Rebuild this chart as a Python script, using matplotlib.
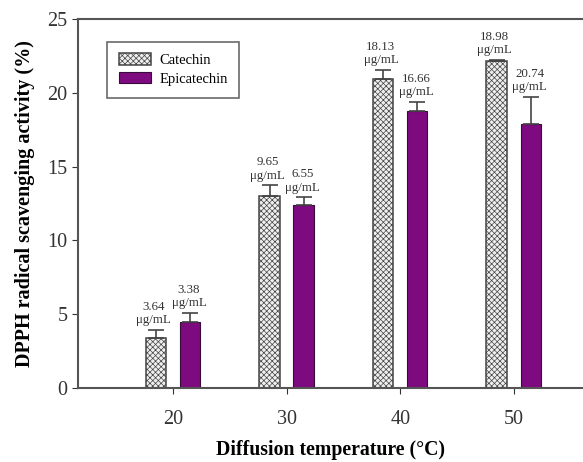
import matplotlib
matplotlib.use("Agg")
import matplotlib.pyplot as plt
import numpy as np

plt.rcParams['font.family'] = ['Liberation Serif', 'DejaVu Serif']
plt.rcParams['hatch.color'] = '#a0a0a0'
plt.rcParams['hatch.linewidth'] = 0.5

temps = [20, 30, 40, 50]
catechin = [3.41, 13.0, 20.93, 22.17]
catechin_err = [0.52, 0.72, 0.6, 0.05]
epicatechin = [4.49, 12.40, 18.77, 17.86]
epicatechin_err = [0.6, 0.52, 0.6, 1.87]
catechin_labels = ["3.64", "9.65", "18.13", "18.98"]
epicatechin_labels = ["3.38", "6.55", "16.66", "20.74"]

fig = plt.figure(figsize=(5.83, 4.62), dpi=100)
ax = fig.add_axes([0.134, 0.160, 0.866, 0.799])

x = np.array(temps, dtype=float)
w = 1.8
off = 1.5
edge = '#444444'
purple = '#7e0a80'

ax.bar(x - off, catechin, width=w, facecolor='#efefef', edgecolor=edge,
       linewidth=1.1, hatch='xxxxxx', label='Catechin', zorder=2)
ax.bar(x + off, epicatechin, width=w, facecolor=purple, edgecolor='#3a0a3a',
       linewidth=0.8, label='Epicatechin', zorder=2)
ax.errorbar(x - off, catechin, yerr=[np.zeros(4), catechin_err], fmt='none',
            ecolor=edge, elinewidth=1.2, capsize=6, capthick=1.2, zorder=3)
ax.errorbar(x + off, epicatechin, yerr=[np.zeros(4), epicatechin_err], fmt='none',
            ecolor=edge, elinewidth=1.2, capsize=6, capthick=1.2, zorder=3)

for xi, v, e, lab in zip(x, catechin, catechin_err, catechin_labels):
    ax.text(xi - off - 0.2, v + e + 0.25, lab + "\nμg/mL", ha='center', va='bottom',
            fontsize=9.3, color='#333333', linespacing=1.15)
for xi, v, e, lab in zip(x, epicatechin, epicatechin_err, epicatechin_labels):
    ax.text(xi + off - 0.1, v + e + 0.25, lab + "\nμg/mL", ha='center', va='bottom',
            fontsize=9.3, color='#333333', linespacing=1.15)

ax.set_xlim(11.63, 56.1)
ax.set_ylim(0, 25)
ax.set_xticks(temps)
ax.set_yticks([0, 5, 10, 15, 20, 25])
ax.tick_params(axis='both', labelsize=14.5, colors='#333333', direction='out', length=4)
ax.tick_params(axis='x', pad=12)
for s in ['left', 'bottom', 'top']:
    ax.spines[s].set_color('#555555')
    ax.spines[s].set_linewidth(1.5)
ax.spines['right'].set_visible(False)

ax.set_ylabel('DPPH radical scavenging activity (%)', fontsize=14.5, fontweight='bold', labelpad=9)
ax.set_xlabel('Diffusion temperature (°C)', fontsize=14.2, fontweight='bold', labelpad=8)

leg = ax.legend(loc='upper left', bbox_to_anchor=(0.057, 0.938), borderaxespad=0,
                fontsize=10.5, frameon=True, fancybox=False, edgecolor='#444444',
                handlelength=2.2, handleheight=0.8, handletextpad=0.6,
                borderpad=0.8, labelspacing=0.35)
leg.get_frame().set_linewidth(1.2)

fig.savefig('out.png', dpi=100)
